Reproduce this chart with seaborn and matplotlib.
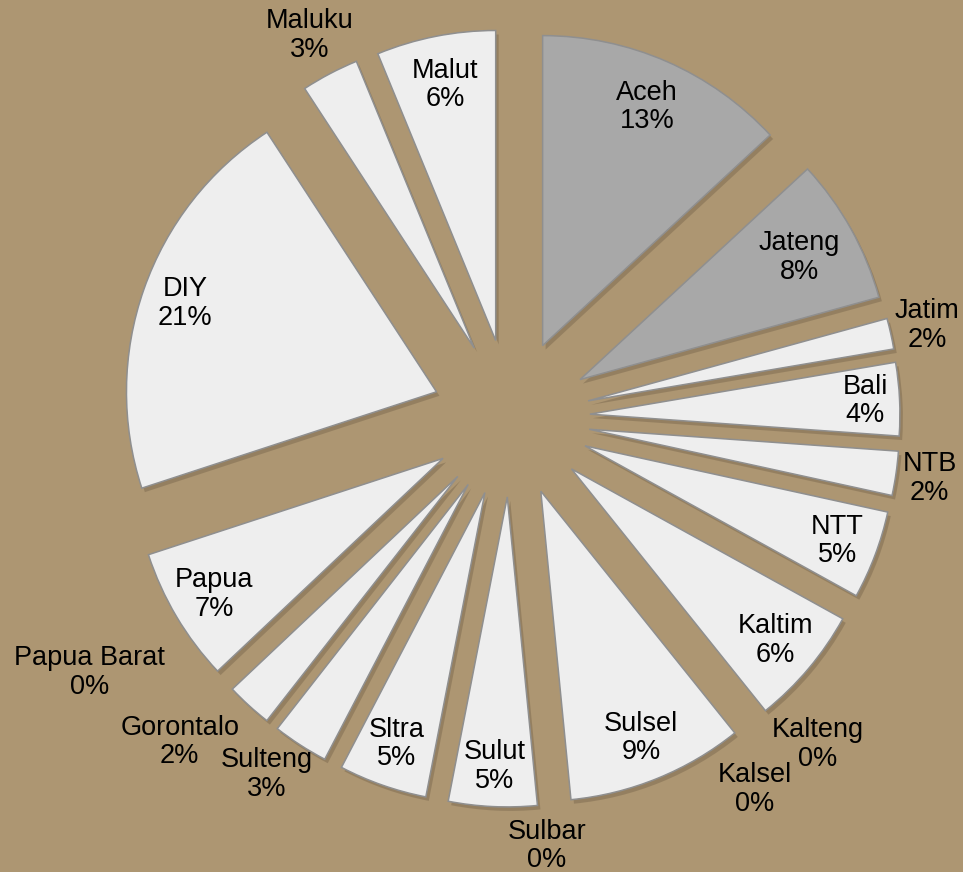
import numpy as np
import matplotlib
matplotlib.use('Agg')
import matplotlib.pyplot as plt
import seaborn as sns

# Share per province (percent), clockwise from 12 o'clock
provinces = ['Aceh', 'Jateng', 'Jatim', 'Bali', 'NTB', 'NTT', 'Kaltim', 'Kalteng',
             'Kalsel', 'Sulsel', 'Sulbar', 'Sulut', 'Sltra', 'Sulteng', 'Gorontalo',
             'Papua Barat', 'Papua', 'DIY', 'Maluku', 'Malut']
shares = [13.1, 7.6, 1.6, 3.8, 2.3, 4.6, 6.2, 0.0,
          0.0, 9.2, 0.0, 4.6, 4.6, 2.9, 2.4,
          0.0, 7.0, 20.8, 3.0, 6.2]
highlighted = ['Aceh', 'Jateng']

# label placement: radius factor and small angular nudge (degrees, clockwise)
label_r = [0.84, 0.81, 1.12, 0.89, 1.11, 0.87, 0.86, 1.19,
           1.18, 0.86, 1.13, 0.87, 0.86, 1.14, 1.24,
           1.34, 0.86, 0.86, 1.14, 0.84]
label_nudge = [0, 0, 0, 0, 0, 0, 0, -5.4,
               6.6, 0, 1, 0, 0, 2.0, 4.0,
               14.5, 0, 0, 0, 0]

sns.set_style('white')
plt.rcParams['font.family'] = ['Liberation Sans', 'DejaVu Sans']

bg = '#ad9672'
fig = plt.figure(figsize=(9.63, 8.72), dpi=100, facecolor=bg)
ax = fig.add_axes([0, 0, 1, 1])
ax.set_facecolor(bg)

R = 310
cx, cy = 511, 454
explode = [79] * len(shares)
colors = ['#a8a8a8' if p in highlighted else '#eeeeee' for p in provinces]

# soft shadow underneath
shadow, _ = ax.pie(shares, radius=R, center=(cx + 3, cy - 4), explode=explode,
                   startangle=90, counterclock=False,
                   colors=['#7d6a4f'] * len(shares),
                   wedgeprops=dict(linewidth=0, alpha=0.5))

wedges, _ = ax.pie(shares, radius=R, center=(cx, cy), explode=explode,
                   startangle=90, counterclock=False,
                   colors=colors,
                   wedgeprops=dict(edgecolor='#8f8f8f', linewidth=1.1))

total = sum(shares)
for w, s, v in zip(wedges, shadow, shares):
    if v == 0:
        w.set_visible(False)
        s.set_visible(False)

for w, name, v, f, dn in zip(wedges, provinces, shares, label_r, label_nudge):
    mid = 0.5 * (w.theta1 + w.theta2) - dn
    t = np.deg2rad(mid)
    x0, y0 = w.center
    ax.text(x0 + f * R * np.cos(t), y0 + f * R * np.sin(t),
            f'{name}\n{v / total * 100:.0f}%',
            ha='center', va='center', fontsize=19.5, linespacing=1.12,
            color='black')

ax.set_xlim(0, 963)
ax.set_ylim(0, 872)
ax.set_aspect('equal')
ax.axis('off')

fig.savefig('out.png', dpi=100, facecolor=bg)
